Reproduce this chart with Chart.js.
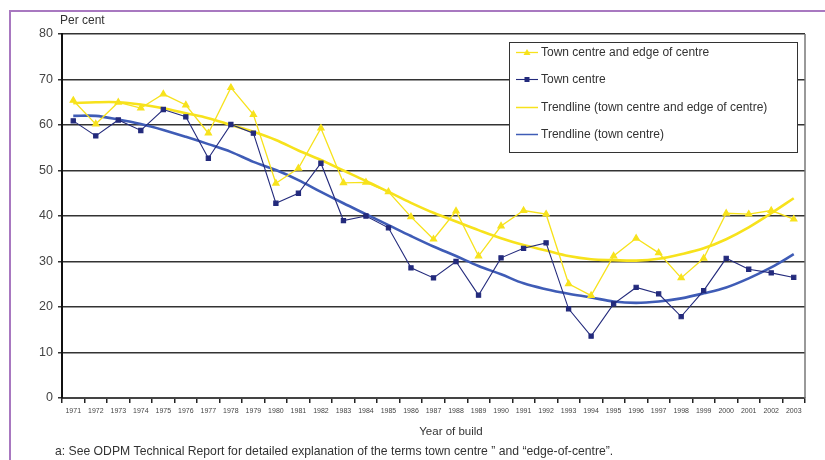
<!DOCTYPE html>
<html>
<head>
<meta charset="utf-8">
<script src="https://cdn.jsdelivr.net/npm/chart.js@4"></script>
<style>
html,body{margin:0;padding:0;background:#fff}
canvas{display:block}
</style>
</head>
<body>
<canvas id="chart" width="825" height="460"></canvas>
<script>
const years=['1971','1972','1973','1974','1975','1976','1977','1978','1979','1980','1981','1982','1983','1984','1985','1986','1987','1988','1989','1990','1991','1992','1993','1994','1995','1996','1997','1998','1999','2000','2001','2002','2003'];

const townEdge=[65.4,60.2,65.0,63.7,66.8,64.4,58.2,68.2,62.3,47.2,50.5,59.3,47.3,47.4,45.3,39.8,34.9,41.1,31.2,37.8,41.2,40.4,25.1,22.5,31.2,35.1,31.9,26.4,30.7,40.6,40.4,41.2,39.3];
const townCentre=[60.9,57.6,61.1,58.8,63.4,61.8,52.7,60.1,58.2,42.8,45.0,51.6,39.0,40.0,37.4,28.6,26.4,30.0,22.6,30.8,32.9,34.1,19.6,13.6,20.7,24.3,22.9,17.9,23.6,30.7,28.3,27.5,26.5];
const trendEdge=[64.8,65.0,65.0,64.5,63.7,62.6,61.5,60.0,58.5,56.7,54.4,52.3,50.0,47.7,45.3,42.9,40.7,38.8,36.9,35.1,33.6,32.4,31.2,30.5,30.3,30.2,30.6,31.6,32.9,34.9,37.5,40.6,43.9];
const trendTown=[62.0,62.0,61.2,60.2,58.9,57.4,55.8,54.1,51.9,50.1,47.9,45.3,42.8,40.4,38.0,35.6,33.3,31.2,29.0,27.2,25.2,23.9,22.9,22.1,21.2,20.9,21.2,21.9,23.0,24.3,26.3,28.7,31.6];

const YELLOW='#f7e21c', NAVY='#232a7c', BLUE='#3f5cb6';
const FONT='"Liberation Sans", Arial, sans-serif';

// frame, captions, right edge and the boxed legend
const decor={
  id:'decor',
  beforeDraw(chart){
    const c=chart.ctx;
    c.save();
    c.fillStyle='#fff';
    c.fillRect(0,0,chart.width,chart.height);
    c.strokeStyle='#a878c0';
    c.lineWidth=2;
    c.beginPath();
    c.moveTo(10,chart.height);
    c.lineTo(10,11);
    c.lineTo(chart.width,11);
    c.stroke();
    c.restore();
  },
  afterDatasetsDraw(chart){
    const c=chart.ctx, a=chart.chartArea;
    c.save();
    c.strokeStyle='#777';
    c.lineWidth=1.5;
    c.beginPath();
    c.moveTo(a.right,a.top);
    c.lineTo(a.right,a.bottom);
    c.stroke();

    const bx=509,by=42,bw=288,bh=110;
    c.fillStyle='#fff';
    c.fillRect(bx,by,bw,bh);
    c.strokeStyle='#333';
    c.lineWidth=1;
    c.strokeRect(bx+0.5,by+0.5,bw,bh);
    c.font='12px '+FONT;
    c.textBaseline='middle';
    chart.data.datasets.forEach((ds,i)=>{
      const y=Math.round(52+i*27.3)+0.5;
      c.strokeStyle=ds.borderColor;
      c.lineWidth=Math.min(ds.borderWidth,1.5);
      c.beginPath();
      c.moveTo(516,y);c.lineTo(538,y);
      c.stroke();
      if(ds.pointRadius>0){
        c.fillStyle=ds.pointBackgroundColor;
        if(ds.pointStyle==='triangle'){
          c.beginPath();
          c.moveTo(527,y-3.5);c.lineTo(530.5,y+2.5);c.lineTo(523.5,y+2.5);
          c.closePath();c.fill();
        }else{
          c.fillRect(524.5,y-2.5,5,5);
        }
      }
      c.fillStyle='#333';
      c.textAlign='left';
      c.fillText(ds.label,541,y);
    });

    c.fillStyle='#333';
    c.font='12px '+FONT;
    c.fillText('Per cent',60,21);
    c.font='11.5px '+FONT;
    c.textAlign='center';
    c.fillText('Year of build',451,432);
    c.textAlign='left';
    c.font='12.2px '+FONT;
    c.fillText('a: See ODPM Technical Report for detailed explanation of the terms town centre \u201d and \u201cedge-of-centre\u201d.',55,452);
    c.restore();
  }
};

new Chart(document.getElementById('chart'),{
  type:'line',
  data:{
    labels:years,
    datasets:[
      {label:'Town centre and edge of centre',data:townEdge,borderColor:YELLOW,backgroundColor:YELLOW,
        pointBackgroundColor:YELLOW,pointBorderColor:YELLOW,borderWidth:1.3,pointStyle:'triangle',pointRadius:3.5,order:1},
      {label:'Town centre',data:townCentre,borderColor:NAVY,backgroundColor:NAVY,
        pointBackgroundColor:NAVY,pointBorderColor:NAVY,borderWidth:1.1,pointStyle:'rect',pointRadius:3,order:0},
      {label:'Trendline (town centre and edge of centre)',data:trendEdge,borderColor:YELLOW,
        borderWidth:2.6,pointRadius:0,tension:0.35,order:3},
      {label:'Trendline (town centre)',data:trendTown,borderColor:BLUE,
        borderWidth:2.6,pointRadius:0,tension:0.35,order:2}
    ]
  },
  options:{
    responsive:false,
    animation:false,
    layout:{padding:{left:0,top:34,right:20,bottom:42}},
    plugins:{legend:{display:false},tooltip:{enabled:false}},
    scales:{
      x:{
        offset:true,
        grid:{offset:true,drawOnChartArea:false,drawTicks:true,tickLength:5,color:'#222',lineWidth:1.5},
        border:{color:'#444',width:2},
        ticks:{color:'#444',font:{family:FONT,size:7},maxRotation:0,autoSkip:false,padding:4},
        afterFit(s){s.height=20;}
      },
      y:{
        min:0,max:80,
        ticks:{stepSize:10,color:'#444',font:{family:FONT,size:12.5},padding:5},
        grid:{color:'#333',lineWidth:1.5,tickLength:4},
        border:{color:'#111',width:2},
        afterFit(s){s.width=62;}
      }
    }
  },
  plugins:[decor]
});
</script>
</body>
</html>
